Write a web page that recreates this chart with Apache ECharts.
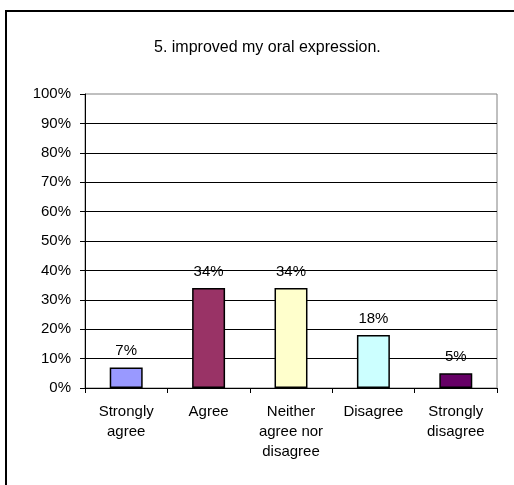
<!DOCTYPE html>
<html>
<head>
<meta charset="utf-8">
<script src="https://cdn.jsdelivr.net/npm/echarts@6/dist/echarts.min.js"></script>
<style>
html,body{margin:0;padding:0;background:#fff;}
#chart{width:514px;height:485px;}
</style>
</head>
<body>
<div id="chart"></div>
<script>
const titleText = '5. improved my oral expression.';
const categories = ['Strongly\nagree', 'Agree', 'Neither\nagree nor\ndisagree', 'Disagree', 'Strongly\ndisagree'];
const values = [7, 34, 34, 18, 5];
const barColors = ['#9999FF', '#993366', '#FFFFCC', '#CCFFFF', '#660066'];
const yTicks = [0, 10, 20, 30, 40, 50, 60, 70, 80, 90, 100];

const FONT = '"Liberation Sans", Arial, sans-serif';
const chart = echarts.init(document.getElementById('chart'), null, {renderer: 'canvas'});
chart.setOption({
  animation: false,
  backgroundColor: '#fff',
  title: {
    text: titleText,
    left: 149,
    top: 35,
    textStyle: {fontFamily: FONT, fontSize: 16, fontWeight: 'normal', color: '#000'}
  },
  graphic: [{
    type: 'rect',
    shape: {x: 6, y: 11, width: 700, height: 700},
    style: {fill: 'none', stroke: '#000', lineWidth: 2},
    silent: true
  }],
  grid: {
    left: 85, right: 17, top: 94, bottom: 97,
    show: true, borderColor: '#808080', borderWidth: 1, backgroundColor: 'transparent'
  },
  xAxis: {
    type: 'category',
    data: categories,
    boundaryGap: true,
    axisLine: {show: true, lineStyle: {color: '#000', width: 1}},
    axisTick: {show: true, length: 5, inside: false, alignWithLabel: false, lineStyle: {color: '#000'}},
    axisLabel: {
      interval: 0, margin: 14, color: '#000', fontFamily: FONT, fontSize: 15, lineHeight: 20
    },
    splitLine: {show: false}
  },
  yAxis: {
    type: 'value',
    min: yTicks[0], max: yTicks[yTicks.length - 1], interval: yTicks[1] - yTicks[0],
    axisLine: {show: true, lineStyle: {color: '#000', width: 1}},
    axisTick: {show: true, length: 5, inside: false, lineStyle: {color: '#000'}},
    axisLabel: {
      formatter: '{value}%', margin: 14, color: '#000', fontFamily: FONT, fontSize: 15
    },
    splitLine: {show: true, showMaxLine: false, lineStyle: {color: '#000', width: 1}}
  },
  series: [{
    type: 'bar',
    data: values.map((v, i) => ({value: v, itemStyle: {color: barColors[i]}})),
    barWidth: '40%',
    itemStyle: {borderColor: '#000', borderWidth: 1.5},
    label: {
      show: true, position: 'top', distance: 9, formatter: '{c}%',
      color: '#000', fontFamily: FONT, fontSize: 15
    }
  }]
});
</script>
</body>
</html>
